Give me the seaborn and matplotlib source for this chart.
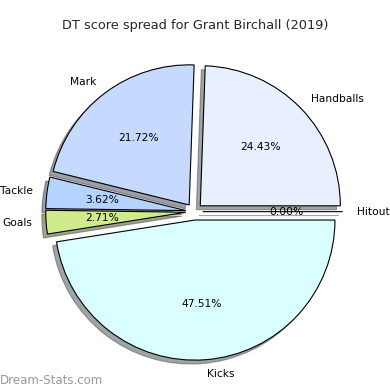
import matplotlib
matplotlib.use("Agg")
import matplotlib.pyplot as plt
import seaborn as sns

sns.set_theme(style="white")
plt.rcParams['font.family'] = ['DejaVu Sans']

labels = ["Handballs", "Mark", "Tackle", "Goals", "Kicks", "Hitout"]
values = [54, 48, 8, 6, 105, 0]
colors = ["#e8f0ff", "#c6d9ff", "#b5d3ff", "#cfeb8c", "#d9ffff", "#ffffff"]
explode = [0.06] * len(values)

fig = plt.figure(figsize=(3.9, 3.9), dpi=100)
ax = fig.add_axes([0.049, 0.0083, 0.898, 0.898])
ax.pie(values, labels=labels, colors=colors, explode=explode, autopct="%1.2f%%",
       shadow=True, startangle=0, counterclock=True,
       wedgeprops=dict(edgecolor="black", linewidth=0.8),
       textprops=dict(fontsize=7.7, color="black"))
ax.set_aspect("equal")
fig.text(0.5, 0.935, "DT score spread for Grant Birchall (2019)", ha="center", va="center", fontsize=9.3)
fig.text(0.0, 0.025, "Dream-Stats.com", ha="left", va="center", fontsize=8.5, color="#999999")
fig.savefig("out.png", dpi=100)
